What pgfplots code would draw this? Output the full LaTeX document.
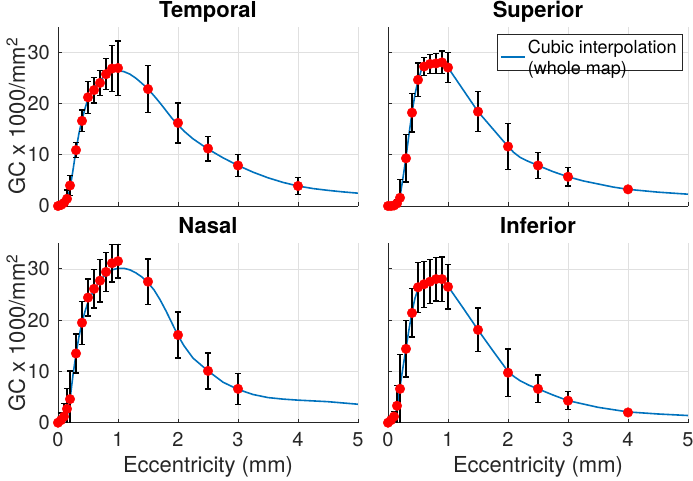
\documentclass[border=0pt]{standalone}
\usepackage{fontspec}
\setmainfont{TeX Gyre Heros}
\usepackage{pgfplots}
\pgfplotsset{compat=1.18}
\definecolor{mblue}{rgb}{0,0.447,0.741}
\definecolor{axgray}{rgb}{0.15,0.15,0.15}
\definecolor{gridgray}{rgb}{0.88,0.88,0.88}
\pgfplotsset{
  every axis title shift=0pt,
  panel/.style={
    scale only axis, width=300pt, height=179.5pt,
    xmin=0, xmax=5, ymin=0, ymax=35,
    axis x line*=bottom, axis y line*=left,
    axis line style={axgray, line width=0.7pt},
    xtick={0,1,2,3,4,5}, ytick={0,10,20,30},
    tick align=inside, major tick length=4pt,
    tick style={axgray, line width=0.7pt},
    grid=major, grid style={gridgray, line width=0.6pt},
    /pgf/number format/assume math mode=true,
    tick label style={font=\fontsize{20}{24}\selectfont, text=axgray},
    yticklabel style={anchor=east, inner sep=0pt, xshift=-8pt},
    xticklabel style={anchor=base, inner sep=0pt, yshift=-24pt},
    title style={font=\bfseries\fontsize{22}{26}\selectfont, at={(axis description cs:0.5,1)}, anchor=base, yshift=9.5pt},
    label style={font=\fontsize{22}{26}\selectfont, text=axgray},
    ylabel style={at={(axis description cs:-0.11,0.5)}, anchor=base},
    xlabel style={at={(axis description cs:0.5,0)}, anchor=base, yshift=-50pt},
  },
  curve/.style={mblue, line width=1.6pt, no markers},
  ebar/.style={draw=none, no markers, forget plot,
    error bars/.cd, y dir=both, y explicit,
    error bar style={black, line width=1.3pt},
    error mark options={rotate=90, mark size=3pt, line width=1.3pt, black}},
  dots/.style={only marks, mark=*, mark size=4.8pt, mark options={fill=red, draw=red}, forget plot},
}
\begin{document}
\begin{tikzpicture}
\path[use as bounding box] (0pt,0pt) rectangle (693pt,480pt);

% ---------------- Temporal ----------------
\begin{axis}[panel, at={(58pt,274pt)}, anchor=south west,
  title={Temporal}, xticklabels={}, ylabel={GC x 1000/mm\textsuperscript{2}}]
\addplot[curve] coordinates {
(0,0) (0.05,0.05) (0.1,0.3) (0.15,1.2) (0.2,3.3) (0.25,7) (0.3,10.9) (0.35,14.2)
(0.4,16.8) (0.45,19.0) (0.5,20.9) (0.6,23.0) (0.7,24.5) (0.8,25.6) (0.9,26.2)
(1.0,26.4) (1.1,26.2) (1.2,25.7) (1.3,24.9) (1.4,23.9) (1.5,22.8) (1.6,21.5)
(1.7,20.1) (1.8,18.6) (1.9,17.1) (2.0,15.8) (2.1,14.6) (2.25,13.1) (2.5,11.1)
(2.75,9.4) (3.0,7.9) (3.25,6.6) (3.5,5.5) (3.75,4.6) (4.0,3.9) (4.25,3.4)
(4.5,3.05) (4.75,2.75) (5.0,2.5)};
\addplot[ebar] table[x=x, y=y, y error=e] {
x y e
0 0 0
0.05 0.2 0.3
0.1 0.6 0.6
0.15 1.4 1.7
0.2 4.0 2.0
0.3 10.9 1.5
0.4 16.6 2.1
0.5 21.2 3.1
0.6 22.6 2.5
0.7 24.0 2.4
0.8 25.7 3.0
0.9 26.8 4.5
1.0 26.9 5.3
1.5 22.8 4.6
2.0 16.2 3.9
2.5 11.2 2.4
3.0 7.9 2.2
4.0 3.9 1.7
};
\addplot[dots] table[x=x, y=y] {
x y
0 0
0.05 0.2
0.1 0.6
0.15 1.4
0.2 4.0
0.3 10.9
0.4 16.6
0.5 21.2
0.6 22.6
0.7 24.0
0.8 25.7
0.9 26.8
1.0 26.9
1.5 22.8
2.0 16.2
2.5 11.2
3.0 7.9
4.0 3.9
};
\end{axis}

% ---------------- Superior ----------------
\begin{axis}[panel, at={(388pt,274pt)}, anchor=south west,
  title={Superior}, xticklabels={}, yticklabels={},
  legend style={at={(axis description cs:1,1)}, anchor=north east, xshift=-6pt, yshift=-7pt,
    draw=axgray, line width=0.5pt, font=\fontsize{18}{21}\selectfont, text=black,
    inner xsep=3pt, inner ysep=3pt},
  legend cell align=left,
  legend image code/.code={\draw[#1] (0pt,-5pt) -- (24pt,-5pt);}]
\addplot[curve] coordinates {
(0,0) (0.1,0) (0.15,0.4) (0.2,1.8) (0.25,5.5) (0.3,9.5) (0.35,14.0) (0.4,18.2)
(0.45,21.8) (0.5,24.4) (0.55,26.3) (0.6,27.1) (0.7,27.6) (0.8,27.8) (0.9,27.9)
(1.0,27.0) (1.25,22.7) (1.5,18.4) (1.75,15.0) (2.0,11.6) (2.1,10.4) (2.2,9.5)
(2.3,8.9) (2.5,7.9) (2.75,6.7) (3.0,5.7) (3.25,4.9) (3.5,4.3) (3.75,3.7)
(4.0,3.25) (4.5,2.7) (5.0,2.3)};
\addlegendentry{\begin{tabular}{@{}l@{}}Cubic interpolation\\(whole map)\end{tabular}}
\addplot[ebar] table[x=x, y=y, y error=e] {
x y e
0 0 0
0.05 0 0
0.1 0.1 0.1
0.15 0.5 0.7
0.2 1.6 3.5
0.3 9.3 4.6
0.4 18.2 3.8
0.5 24.6 3.3
0.6 27.2 1.8
0.7 27.7 1.9
0.8 27.8 1.9
0.9 28.0 2.2
1.0 27.0 2.9
1.5 18.4 3.9
2.0 11.6 4.5
2.5 7.9 2.5
3.0 5.7 1.8
4.0 3.25 0.3
};
\addplot[dots] table[x=x, y=y] {
x y
0 0
0.05 0
0.1 0.1
0.15 0.5
0.2 1.6
0.3 9.3
0.4 18.2
0.5 24.6
0.6 27.2
0.7 27.7
0.8 27.8
0.9 28.0
1.0 27.0
1.5 18.4
2.0 11.6
2.5 7.9
3.0 5.7
4.0 3.25
};
\end{axis}

% ---------------- Nasal ----------------
\begin{axis}[panel, at={(58pt,57.3pt)}, anchor=south west,
  title={Nasal}, xlabel={Eccentricity (mm)}, ylabel={GC x 1000/mm\textsuperscript{2}}]
\addplot[curve] coordinates {
(0,0) (0.1,0.1) (0.15,1.0) (0.2,4.5) (0.25,9.3) (0.3,13.4) (0.35,16.8) (0.4,19.5)
(0.45,21.7) (0.5,23.5) (0.6,25.9) (0.7,27.7) (0.8,29.0) (0.9,29.8) (1.0,30.1)
(1.1,30.1) (1.2,29.8) (1.3,29.2) (1.4,28.4) (1.5,27.3) (1.6,25.9) (1.7,24.0)
(1.8,21.8) (1.9,19.4) (2.0,17.0) (2.1,15.0) (2.25,12.6) (2.5,10.1) (2.75,7.9)
(3.0,6.5) (3.25,5.5) (3.5,4.9) (3.75,4.6) (4.0,4.4) (4.5,4.1) (5.0,3.6)};
\addplot[ebar] table[x=x, y=y, y error=e] {
x y e
0 0 0
0.05 0.5 1.4
0.1 1.2 2.6
0.15 2.7 4.0
0.2 4.6 5.5
0.3 13.5 3.8
0.4 19.5 4.2
0.5 24.4 3.6
0.6 26.1 3.75
0.7 27.7 4.15
0.8 29.4 3.8
0.9 31.1 3.65
1.0 31.5 3.3
1.5 27.5 4.4
2.0 17.1 4.5
2.5 10.1 3.5
3.0 6.6 3.0
};
\addplot[dots] table[x=x, y=y] {
x y
0 0
0.05 0.5
0.1 1.2
0.15 2.7
0.2 4.6
0.3 13.5
0.4 19.5
0.5 24.4
0.6 26.1
0.7 27.7
0.8 29.4
0.9 31.1
1.0 31.5
1.5 27.5
2.0 17.1
2.5 10.1
3.0 6.6
};
\end{axis}

% ---------------- Inferior ----------------
\begin{axis}[panel, at={(388pt,57.3pt)}, anchor=south west,
  title={Inferior}, xlabel={Eccentricity (mm)}, yticklabels={}]
\addplot[curve] coordinates {
(0,0) (0.1,0.3) (0.15,3.0) (0.2,7.0) (0.25,10.8) (0.3,14.5) (0.35,18.2) (0.4,21.6)
(0.45,24.3) (0.5,26.0) (0.6,27.1) (0.7,27.6) (0.8,28.0) (0.9,27.9) (1.0,26.6)
(1.25,22.4) (1.5,18.1) (1.75,14.0) (2.0,10.0) (2.1,9.0) (2.2,8.2) (2.35,7.3)
(2.5,6.6) (2.75,5.4) (3.0,4.3) (3.5,3.0) (4.0,2.1) (4.5,1.7) (5.0,1.4)};
\addplot[ebar] table[x=x, y=y, y error=e] {
x y e
0 0 0
0.05 0.5 0.5
0.1 1.2 1.0
0.15 3.3 4.0
0.2 6.6 6.7
0.3 14.4 5.5
0.4 21.4 4.7
0.5 26.4 4.9
0.6 27.0 4.5
0.7 27.5 4.3
0.8 28.0 4.25
0.9 28.0 4.3
1.0 26.5 4.35
1.5 18.1 4.25
2.0 9.75 4.65
2.5 6.6 2.7
3.0 4.3 1.75
4.0 2.0 0.6
};
\addplot[dots] table[x=x, y=y] {
x y
0 0
0.05 0.5
0.1 1.2
0.15 3.3
0.2 6.6
0.3 14.4
0.4 21.4
0.5 26.4
0.6 27.0
0.7 27.5
0.8 28.0
0.9 28.0
1.0 26.5
1.5 18.1
2.0 9.75
2.5 6.6
3.0 4.3
4.0 2.0
};
\end{axis}
\end{tikzpicture}
\end{document}
